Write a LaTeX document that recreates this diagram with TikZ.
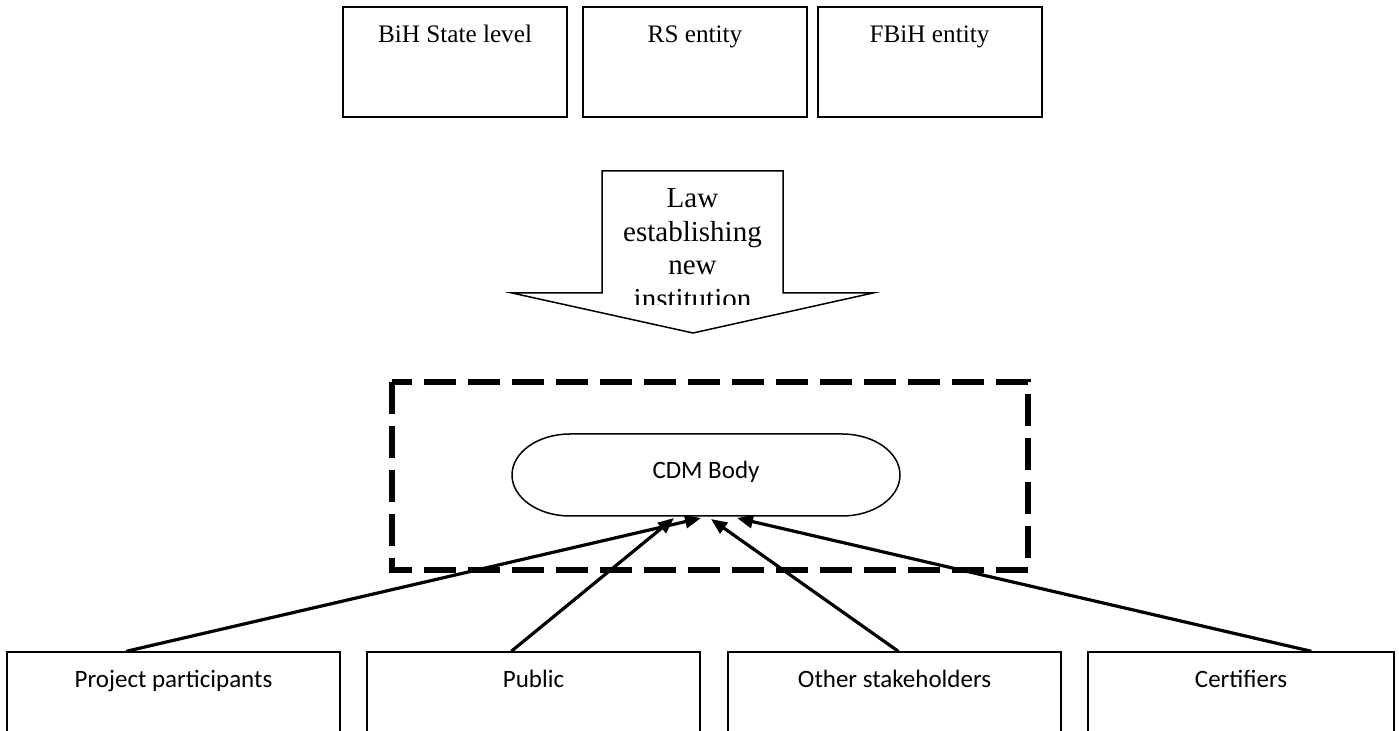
\documentclass[tikz,border=0pt]{standalone}
\usepackage{fontspec}
\setmainfont{Liberation Serif}
\newfontfamily\calibri{Carlito}
\usetikzlibrary{arrows.meta,calc}

\begin{document}
\begin{tikzpicture}[x=0.5pt,y=-0.5pt,
    topbox/.style={draw, line width=1pt, minimum width=112pt, minimum height=55pt, inner sep=0pt},
    toplab/.style={anchor=base, inner sep=0pt, font=\fontsize{12.6}{15}\selectfont},
    lawlab/.style={anchor=base, inner sep=0pt, font=\fontsize{14.5}{17}\selectfont},
    botbox/.style={draw, line width=0.7pt, minimum height=60pt, inner sep=0pt},
    botlab/.style={anchor=base, inner sep=0pt, font=\calibri\fontsize{12.5}{15}\selectfont},
    feed/.style={line width=1.6pt, -{Triangle[length=8pt,width=6.5pt]}}]
  \useasboundingbox (0,0) rectangle (1399,731);

  % levels of government
  \foreach \x/\n/\t in {455/bih/BiH State level, 695/rs/RS entity, 929.5/fbih/FBiH entity} {
    \node[topbox] (\n) at (\x,62) {};
    \node[toplab] (\n-lab) at (\x,43) {\t};
  }

  % block arrow
  \draw[line width=0.75pt] (602,171) -- (783,171) -- (783,293) -- (873,293) -- (693,333)
    -- (512,293) -- (602,293) -- cycle;
  \begin{scope}
    \clip (602,171) rectangle (783,305);
    \foreach \y/\w [count=\i] in {208/Law, 242/establishing, 275/new, 309/institution}
      \node[lawlab] (law\i) at (692.5,\y) {\w};
  \end{scope}

  % new institution
  \draw[line width=2.6pt, dash pattern=on 16pt off 6pt] (392,382) rectangle (1028,570);
  \draw[line width=0.75pt] (570,434) -- (842,434)
    arc[start angle=90, end angle=-90, x radius=29pt, y radius=20.5pt] -- (570,516)
    arc[start angle=270, end angle=90, x radius=29pt, y radius=20.5pt] -- cycle;
  \node[botlab] (cdm) at (706,479) {CDM Body};
  \coordinate (cdm-in1) at (701,518);
  \coordinate (cdm-in2) at (674,518);
  \coordinate (cdm-in3) at (711,519);
  \coordinate (cdm-in4) at (737,518);

  % stakeholders
  \foreach \x/\w/\n/\t in {173.5/166.5/pp/Project participants, 533.5/166.5/pub/Public,
      894.5/166.5/oth/Other stakeholders, 1241/153/cert/Certifiers} {
    \node[botbox, minimum width=\w pt] (\n) at (\x,712) {};
    \node[botlab] (\n-lab) at (\x,688) {\t};
  }

  \draw[feed] ($(pp.north west)+(120,0)$) -- (cdm-in1);
  \draw[feed] ($(pub.north west)+(145,0)$) -- (cdm-in2);
  \draw[feed] ($(oth.north west)+(171,0)$) -- (cdm-in3);
  \draw[feed] ($(cert.north west)+(224,0)$) -- (cdm-in4);
\end{tikzpicture}
\end{document}
